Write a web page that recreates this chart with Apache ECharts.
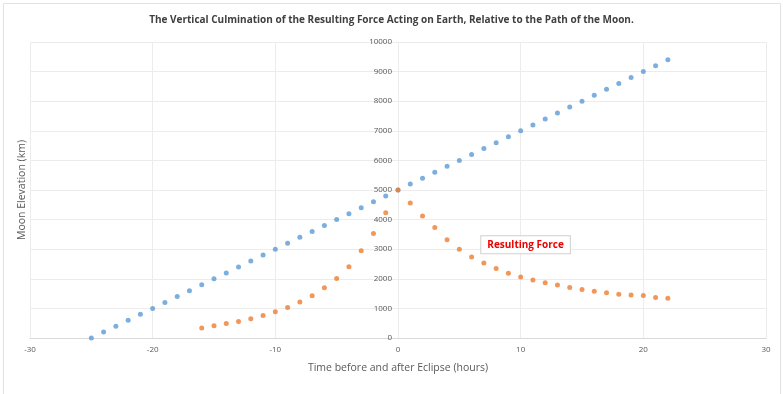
<!DOCTYPE html>
<html>
<head>
<meta charset="utf-8">
<script src="https://cdn.jsdelivr.net/npm/echarts@6/dist/echarts.min.js"></script>
<style>
  html, body { margin: 0; padding: 0; background: #fff; }
  #chart { width: 783px; height: 394px; }
</style>
</head>
<body>
<div id="chart"></div>
<script>
// moon path (blue) and resulting force (orange), hours vs km
const moonHours = [-25, -24, -23, -22, -21, -20, -19, -18, -17, -16, -15, -14, -13, -12, -11, -10,
  -9, -8, -7, -6, -5, -4, -3, -2, -1, 0, 1, 2, 3, 4, 5, 6, 7, 8, 9, 10, 11, 12, 13, 14, 15, 16,
  17, 18, 19, 20, 21, 22]
const moonElevation = [0, 200, 400, 600, 800, 1000, 1200, 1400, 1600, 1800, 2000, 2200, 2400, 2600,
  2800, 3000, 3200, 3400, 3600, 3800, 4000, 4200, 4400, 4600, 4800, 5000, 5200, 5400, 5600, 5800,
  6000, 6200, 6400, 6600, 6800, 7000, 7200, 7400, 7600, 7800, 8000, 8200, 8400, 8600, 8800, 9000,
  9200, 9400]

const forceHours = [-16, -15, -14, -13, -12, -11, -10, -9, -8, -7, -6, -5, -4, -3, -2, -1, 0,
  1, 2, 3, 4, 5, 6, 7, 8, 9, 10, 11, 12, 13, 14, 15, 16, 17, 18, 19, 20, 21, 22]
const forceElevation = [340, 410, 490, 560, 650, 760, 890, 1030, 1220, 1430, 1700, 2010, 2410,
  2950, 3530, 4230, 5000, 4560, 4120, 3730, 3320, 3000, 2740, 2530, 2350, 2190, 2060, 1960,
  1870, 1790, 1710, 1640, 1580, 1530, 1480, 1450, 1440, 1370, 1340]

const labelHour = 10.4
const labelKm = 3150

const pairs = (xs, ys) => xs.map((x, i) => [x, ys[i]])

const chart = echarts.init(document.getElementById('chart'))

const font = 'Open Sans, Noto Sans, sans-serif'
const gridLeft = 30
const gridRight = 17
// y axis sits on x = 0, which is the middle of the -30..30 range
const gridWidth = 783 - gridLeft - gridRight

const option = {
  animation: false,
  textStyle: { fontFamily: font },
  title: {
    text: 'The Vertical Culmination of the Resulting Force Acting on Earth, Relative to the Path of the Moon.',
    left: 'center',
    top: 10,
    textStyle: { fontSize: 10, fontWeight: 'bold', color: '#404040', fontFamily: font }
  },
  graphic: [
    {
      type: 'rect',
      shape: { x: 3.5, y: 3.5, width: 777, height: 400 },
      style: { fill: 'none', stroke: '#e2e2e2', lineWidth: 1 },
      silent: true
    },
    {
      type: 'text',
      x: 22,
      y: 190,
      rotation: Math.PI / 2,
      style: {
        text: 'Moon Elevation (km)',
        fontSize: 10.5,
        fill: '#595959',
        fontFamily: font,
        align: 'center',
        verticalAlign: 'middle'
      }
    }
  ],
  grid: { left: gridLeft, right: gridRight, top: 42, bottom: 56 },
  xAxis: {
    type: 'value',
    min: -30,
    max: 30,
    interval: 10,
    name: 'Time before and after Eclipse (hours)',
    nameLocation: 'middle',
    nameGap: 25,
    nameTextStyle: { fontSize: 10.5, color: '#595959' },
    axisLine: { lineStyle: { color: '#d9d9d9' } },
    axisTick: { show: false },
    axisLabel: { fontSize: 8, color: '#595959', margin: 8 },
    splitLine: { lineStyle: { color: '#ececec' } }
  },
  yAxis: {
    type: 'value',
    min: 0,
    max: 10000,
    interval: 1000,
    offset: -gridWidth / 2,
    axisLine: { show: true, onZero: false, lineStyle: { color: '#ececec' } },
    axisTick: { show: false },
    axisLabel: { fontSize: 8, color: '#595959', margin: 6, formatter: v => String(v) },
    splitLine: { lineStyle: { color: '#ececec' } }
  },
  series: [
    {
      name: 'Moon',
      type: 'scatter',
      symbolSize: 5,
      itemStyle: { color: '#5b9bd5' },
      data: pairs(moonHours, moonElevation)
    },
    {
      name: 'Resulting Force',
      type: 'scatter',
      symbolSize: 5,
      itemStyle: { color: '#ed7d31' },
      data: pairs(forceHours, forceElevation),
      markPoint: {
        symbol: 'rect',
        symbolSize: 0,
        data: [{ coord: [labelHour, labelKm] }],
        label: {
          show: true,
          position: 'inside',
          formatter: 'Resulting Force',
          color: '#ee0000',
          fontWeight: 'bold',
          fontSize: 10,
          fontFamily: font,
          backgroundColor: '#fff',
          borderColor: '#d0d0d0',
          borderWidth: 1,
          padding: [4, 6, 3, 6]
        }
      }
    }
  ]
}

chart.setOption(option)
window.addEventListener('resize', () => chart.resize())
</script>
</body>
</html>
